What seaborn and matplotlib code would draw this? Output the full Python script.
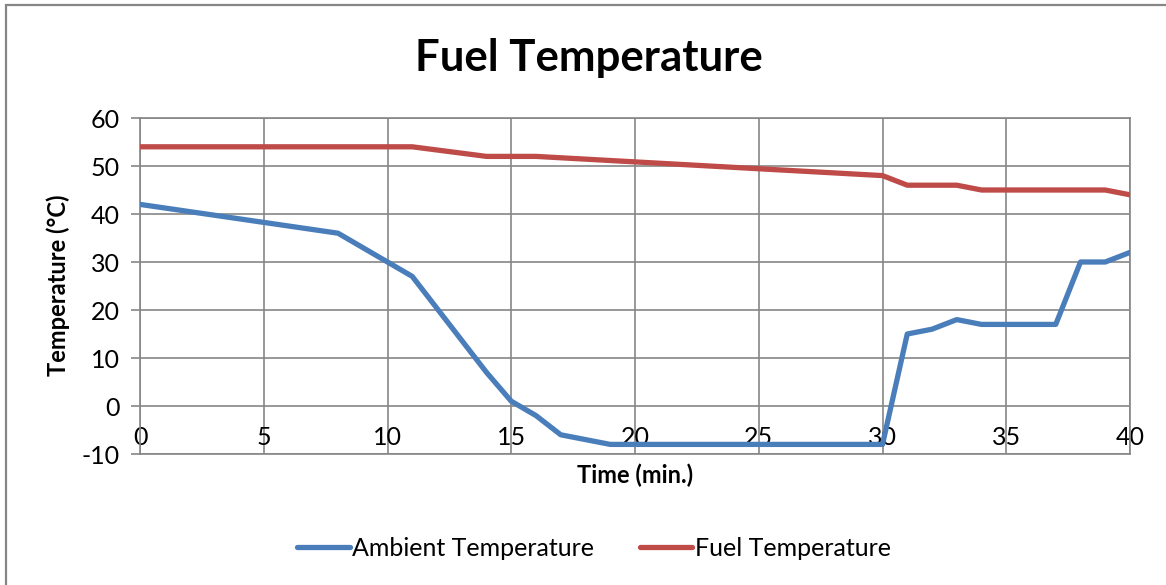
import matplotlib
matplotlib.use("Agg")
import matplotlib.pyplot as plt
from matplotlib.patches import Rectangle
import seaborn as sns
import pandas as pd

# Readings (minutes, degrees Celsius)
ambient_time = [0, 8, 11, 14, 15, 16, 17, 19, 30, 31, 32, 33, 34, 37, 38, 39, 40]
ambient_temp = [42, 36, 27, 7, 1, -2, -6, -8, -8, 15, 16, 18, 17, 17, 30, 30, 32]

fuel_time = [0, 11, 14, 16, 30, 31, 33, 34, 39, 40]
fuel_temp = [54, 54, 52, 52, 48, 46, 46, 45, 45, 44]

series_names = ["Ambient Temperature", "Fuel Temperature"]
series_colors = ["#4A7EBB", "#BE4B48"]

x_ticks = [0, 5, 10, 15, 20, 25, 30, 35, 40]
y_ticks = [-10, 0, 10, 20, 30, 40, 50, 60]

df = pd.concat([
    pd.DataFrame({"time": ambient_time, "temp": ambient_temp, "series": series_names[0]}),
    pd.DataFrame({"time": fuel_time, "temp": fuel_temp, "series": series_names[1]}),
], ignore_index=True)

sns.set_theme(style="white")
plt.rcParams["font.family"] = ["Lato", "DejaVu Sans"]
plt.rcParams["axes.unicode_minus"] = False
plt.rcParams["text.color"] = "black"
plt.rcParams["axes.labelcolor"] = "black"

W, H = 1166, 585
fig = plt.figure(figsize=(W / 100, H / 100), dpi=100)
ax = fig.add_axes([140 / W, 1 - 454 / H, 990 / W, 336 / H])

grid_c = "#868686"
sns.lineplot(data=df, x="time", y="temp", hue="series", hue_order=series_names,
             palette=dict(zip(series_names, series_colors)), linewidth=3.8,
             ax=ax, legend=True, zorder=3)
for ln in ax.get_lines():
    ln.set_solid_joinstyle("round")

ax.set_xlim(0, 40)
ax.set_ylim(-10, 60)
ax.set_xticks(x_ticks)
ax.set_yticks(y_ticks)
ax.grid(True, color=grid_c, linewidth=1.2, zorder=1)
ax.set_axisbelow(True)
for sp in ax.spines.values():
    sp.set_color(grid_c)
    sp.set_linewidth(1.2)

ax.tick_params(axis="y", length=6.5, width=1.2, color=grid_c, pad=8, labelsize=18,
               labelcolor="black", direction="out", left=True)
ax.tick_params(axis="x", length=0, pad=-20, labelsize=18, labelcolor="black")
for lbl in ax.get_xticklabels():
    lbl.set_zorder(5)

ax.set_xlabel("Time (min.)", fontsize=17, fontweight="bold", va="center")
ax.xaxis.set_label_coords(0.5, -0.0625)
ax.set_ylabel("Temperature (°C)", fontsize=17, fontweight="bold", va="center")
ax.yaxis.set_label_coords((58 - 140) / 990, 0.503)

fig.suptitle("Fuel Temperature", x=589 / W, y=1 - 58 / H, va="center",
             fontsize=31.5, fontweight="bold", color="black")

handles, labels = ax.get_legend_handles_labels()
ax.get_legend().remove()
fig.legend(handles, labels, loc="center", bbox_to_anchor=(594 / W, 1 - 548 / H),
           ncol=2, frameon=False, fontsize=18, handlelength=2.1,
           handletextpad=0.12, columnspacing=1.8)

# chart frame
fig.patches.append(Rectangle((6 / W, -0.1), 1.2, 1.1 - 5 / H, transform=fig.transFigure,
                             fill=False, edgecolor=grid_c, linewidth=1.6, zorder=0))

fig.savefig("out.png", dpi=100, facecolor="white")
